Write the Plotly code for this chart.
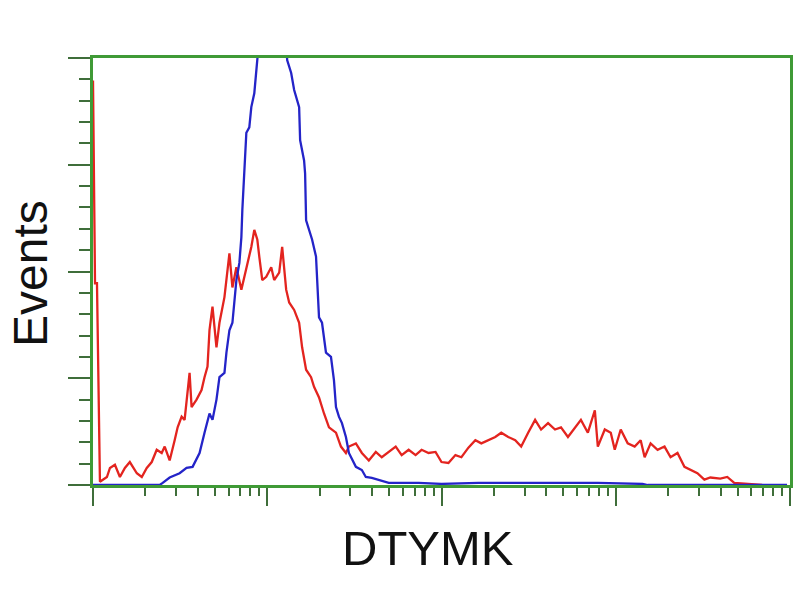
import plotly.graph_objects as go

# Red histogram (DTYMK stained): fluorescence channel (log) vs events
red_x = [1.0, 1.027, 1.054, 1.096, 1.202, 1.251, 1.336, 1.427, 1.524, 1.627, 1.784, 1.905,
         2.035, 2.173, 2.321, 2.479, 2.579, 2.754, 2.942, 3.06, 3.226, 3.355, 3.583, 3.679,
         3.929, 4.197, 4.365, 4.541, 4.662, 4.850, 5.112, 5.318, 5.680, 6.066, 6.310, 6.651,
         7.103, 7.586, 8.101, 8.427, 8.767, 9.0, 9.363, 9.869, 10.54, 10.96, 11.71, 12.18,
         12.84, 13.36, 14.27, 15.24, 15.85, 16.71, 17.84, 18.56, 19.82, 21.17, 22.61, 24.80,
         26.48, 28.28, 29.42, 32.26, 34.91, 38.28, 41.97, 45.41, 49.79, 54.60, 59.08, 64.78,
         71.03, 76.87, 84.29, 92.41, 100.0, 109.6, 120.2, 130.1, 142.7, 156.4, 169.3, 185.6,
         203.5, 220.3, 241.6, 264.9, 286.6, 314.2, 344.5, 372.8, 408.8, 448.2, 485.0, 531.8,
         583.1, 631.0, 691.8, 758.6, 789.1, 865.0, 936.3, 987.0, 1068, 1171, 1284, 1390,
         1465, 1585, 1738, 1905, 2063, 2261, 2479, 2683, 2942, 3226, 3491, 3981, 4365, 4786,
         5680, 6918]
red_y = [379, 189, 189, 3, 7.5, 16, 19, 7.5, 16, 21.5, 11, 7.5,
         16, 21.5, 33, 30, 36, 23, 42, 54, 64, 61, 105, 73,
         80, 89, 101, 111, 145, 167, 129, 152, 176, 217, 185, 204,
         183, 204, 223, 239, 230, 214, 192, 195, 204, 192, 199, 223,
         183, 171, 164, 152, 129, 108, 101, 92, 82, 67, 54, 49,
         36, 30, 36, 39, 30, 23, 31, 26, 31, 36, 28, 33,
         28, 33, 30, 31, 21.5, 20.6, 28, 26, 35, 42, 39, 42,
         45, 49, 45, 42, 36, 49, 61, 52, 58, 52, 54, 45,
         54, 61, 49, 70, 36, 52, 49, 33, 52, 39, 36, 42,
         26, 39, 33, 36, 26, 30, 17, 14, 11, 5, 7, 6, 7.5, 2,
         1, 0]

# Blue histogram (isotype control)
blue_x = [1.0, 2.414, 2.512, 2.754, 3.141, 3.444, 3.728, 4.088, 4.365, 4.662, 4.850, 5.112,
          5.318, 5.680, 5.831, 6.066, 6.310, 6.478, 6.651, 6.918, 7.103, 7.197, 7.389, 7.586,
          7.889, 8.101, 8.427, 8.652, 8.767, 9.242, 10.27, 11.71, 12.67, 13.01, 13.72, 14.27,
          15.24, 15.44, 16.27, 16.49, 16.71, 17.84, 18.08, 19.05, 19.82, 20.62, 21.73, 23.21,
          24.15, 24.80, 25.78, 26.83, 28.28, 29.42, 32.26, 34.91, 36.79, 39.81, 43.65, 49.79,
          73.9, 100.0, 162.7, 314.2, 789.0, 1426, 1524, 9616]
blue_y = [0, 0, 2, 7, 11, 16, 17, 30, 49, 67, 61, 80,
          101, 105, 124, 145, 152, 171, 192, 208, 232, 258, 292, 330,
          335, 354, 367, 386, 396, 440, 460, 450, 440, 398, 386, 370,
          354, 323, 304, 292, 248, 232, 230, 214, 157, 152, 124, 120,
          98, 73, 64, 58, 45, 30, 17, 14, 7.5, 6.6, 4.7, 2,
          2, 1, 2, 2, 2, 1, 0, 0]

x_title = "DTYMK"
y_title = "Events"

GREEN = "#3f9a36"
TICK = "#3f6e3a"

fig = go.Figure()
fig.add_trace(go.Scatter(x=red_x, y=red_y, mode="lines",
                         line=dict(color="#e3241f", width=2.3), showlegend=False))
fig.add_trace(go.Scatter(x=blue_x, y=blue_y, mode="lines",
                         line=dict(color="#2424c8", width=2.3), showlegend=False))

fig.update_layout(
    width=800, height=600,
    margin=dict(l=93, r=7, t=58, b=115),
    paper_bgcolor="white", plot_bgcolor="white",
    font=dict(family="Liberation Sans, Arial, sans-serif", color="black"),
)
fig.update_xaxes(
    type="log", range=[0, 4], dtick=1,
    showgrid=False, zeroline=False, showticklabels=False,
    showline=True, linecolor=GREEN, linewidth=3, mirror=True,
    ticks="outside", ticklen=18, tickwidth=2, tickcolor=TICK,
    minor=dict(ticks="outside", ticklen=8, tickwidth=2, tickcolor=TICK, dtick="D1", showgrid=False),
)
fig.update_yaxes(
    range=[0, 400], dtick=100,
    showgrid=False, zeroline=False, showticklabels=False,
    showline=True, linecolor=GREEN, linewidth=3, mirror=True,
    ticks="outside", ticklen=22, tickwidth=2, tickcolor=TICK,
    minor=dict(ticks="outside", ticklen=11, tickwidth=2, tickcolor=TICK, dtick=20, showgrid=False),
)
fig.add_annotation(
    text=x_title, xref="paper", yref="paper", x=0.48, y=-0.148,
    xanchor="center", yanchor="middle", showarrow=False,
    font=dict(size=49, color="#111111"),
)
fig.add_annotation(
    text=y_title, xref="paper", yref="paper", x=-0.089, y=0.4965,
    xanchor="center", yanchor="middle", showarrow=False, textangle=-90,
    font=dict(size=48, color="#111111"),
)

# remove the default 8px body margin so the 800x600 figure fills the window exactly
fig.write_html("out.html", config={"displayModeBar": False},
               post_script="document.body.style.margin='0px';")
